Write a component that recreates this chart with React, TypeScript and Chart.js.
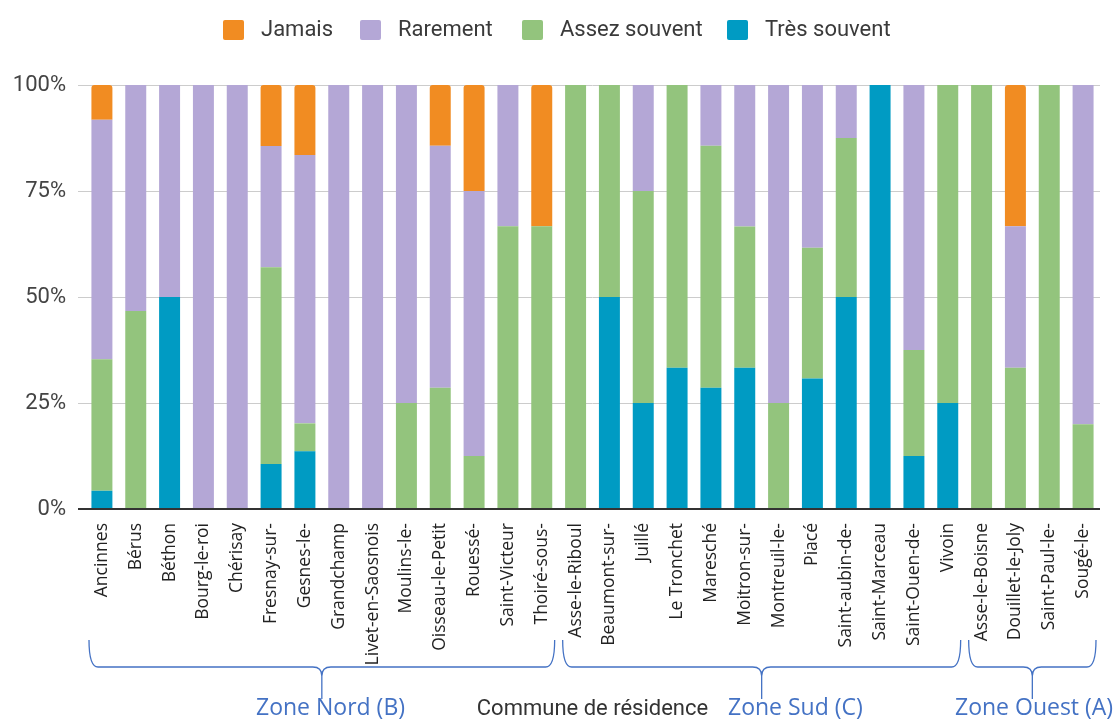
import React, { useEffect, useRef } from 'react';
import { Chart, registerables } from 'chart.js';

Chart.register(...registerables);

// ---- Data ----
const communes = [
  'Ancinnes', 'Bérus', 'Béthon', 'Bourg-le-roi', 'Chérisay', 'Fresnay-sur-', 'Gesnes-le-',
  'Grandchamp', 'Livet-en-Saosnois', 'Moulins-le-', 'Oisseau-le-Petit', 'Rouessé-',
  'Saint-Victeur', 'Thoiré-sous-',
  'Asse-le-Riboul', 'Beaumont-sur-', 'Juillé', 'Le Tronchet', 'Maresché', 'Moitron-sur-',
  'Montreuil-le-', 'Piacé', 'Saint-aubin-de-', 'Saint-Marceau', 'Saint-Ouen-de-', 'Vivoin',
  'Asse-le-Boisne', 'Douillet-le-Joly', 'Saint-Paul-le-', 'Sougé-le-',
];

const tresSouvent = [4.3, 0, 50, 0, 0, 10.6, 13.6, 0, 0, 0, 0, 0, 0, 0,
  0, 50, 25, 33.3, 28.6, 33.3, 0, 30.8, 50, 100, 12.5, 25,
  0, 0, 0, 0];
const assezSouvent = [31.0, 46.7, 0, 0, 0, 46.4, 6.6, 0, 0, 25, 28.6, 12.5, 66.7, 66.7,
  100, 50, 50, 66.7, 57.1, 33.3, 25, 30.8, 37.5, 0, 25, 75,
  100, 33.3, 100, 20];
const rarement = [56.5, 53.3, 50, 100, 100, 28.6, 63.3, 100, 100, 75, 57.1, 62.5, 33.3, 0,
  0, 0, 25, 0, 14.3, 33.4, 75, 38.4, 12.5, 0, 62.5, 0,
  0, 33.4, 0, 80];
const jamais = [8.2, 0, 0, 0, 0, 14.4, 16.5, 0, 0, 0, 14.3, 25, 0, 33.3,
  0, 0, 0, 0, 0, 0, 0, 0, 0, 0, 0, 0,
  0, 33.3, 0, 0];

const seriesNames = ['Très souvent', 'Assez souvent', 'Rarement', 'Jamais'];
const seriesColors = ['#009BC3', '#93C47D', '#B4A7D6', '#F18C22'];
const legendOrder = ['Jamais', 'Rarement', 'Assez souvent', 'Très souvent'];

const yTickValues = [0, 25, 50, 75, 100];

const zoneNames = ['Zone Nord (B)', 'Zone Sud (C)', 'Zone Ouest (A)'];
const zoneFirst = [0, 14, 26];
const zoneLast = [13, 25, 29];

const xTitle = 'Commune de résidence';

// ---- Overlay plugin: legend, braces, zone labels ----
const overlayPlugin = {
  id: 'overlay',
  afterDraw(chart: any) {
    const ctx = chart.ctx;
    const x = chart.scales.x;
    ctx.save();

    // Legend
    const legendBoxX = [223, 360, 522, 727];
    ctx.font = '22px Roboto';
    ctx.textBaseline = 'middle';
    ctx.textAlign = 'left';
    legendOrder.forEach((name, i) => {
      const c = seriesColors[seriesNames.indexOf(name)];
      ctx.fillStyle = c;
      ctx.beginPath();
      (ctx as any).roundRect(legendBoxX[i], 20, 21, 20, 2);
      ctx.fill();
      ctx.fillStyle = '#3a3a3a';
      ctx.fillText(name, legendBoxX[i] + 38, 30);
    });

    // Braces
    const catW = x.getPixelForValue(1) - x.getPixelForValue(0);
    const top = 640, mid = 667, tip = 699, r = 9;
    ctx.strokeStyle = '#4472C4';
    ctx.lineWidth = 1.3;
    const textLeft = [256, 728, 955];
    zoneNames.forEach((name, i) => {
      const L = x.getPixelForValue(zoneFirst[i]) - catW / 2 + 4;
      const R = x.getPixelForValue(zoneLast[i]) + catW / 2 - 4;
      const C = (L + R) / 2;
      ctx.beginPath();
      ctx.moveTo(L, top);
      ctx.quadraticCurveTo(L, mid, L + r, mid);
      ctx.lineTo(C - r, mid);
      ctx.quadraticCurveTo(C, mid, C, mid + r);
      ctx.lineTo(C, tip);
      ctx.moveTo(R, top);
      ctx.quadraticCurveTo(R, mid, R - r, mid);
      ctx.lineTo(C + r, mid);
      ctx.quadraticCurveTo(C, mid, C, mid + r);
      ctx.stroke();

      ctx.fillStyle = '#4472C4';
      ctx.font = '23px "Open Sans"';
      ctx.textAlign = 'left';
      ctx.textBaseline = 'alphabetic';
      ctx.fillText(name, textLeft[i], 715);
    });
    ctx.restore();
  },
};

export default function App() {
  const ref = useRef<HTMLCanvasElement>(null);

  useEffect(() => {
    if (!ref.current) return;
    const datasets = seriesNames.map((name, i) => ({
      label: name,
      data: [tresSouvent, assezSouvent, rarement, jamais][i],
      backgroundColor: seriesColors[i],
      borderWidth: 0,
      borderRadius: name === 'Jamais' ? { topLeft: 3, topRight: 3, bottomLeft: 0, bottomRight: 0 } : 0,
      categoryPercentage: 1,
      barPercentage: 0.62,
    }));

    const chart = new Chart(ref.current, {
      type: 'bar',
      data: { labels: communes, datasets },
      plugins: [overlayPlugin],
      options: {
        responsive: false,
        animation: false,
        layout: { padding: { top: 85, right: 18, left: 0, bottom: 0 } },
        plugins: {
          legend: { display: false },
          tooltip: { enabled: false },
        },
        scales: {
          x: {
            stacked: true,
            grid: { display: false },
            border: { display: false },
            ticks: {
              autoSkip: false,
              maxRotation: 90,
              minRotation: 90,
              padding: 6,
              color: '#222',
              font: { family: '"Open Sans"', size: 17.5 },
            },
            title: {
              display: true,
              text: xTitle,
              color: '#333',
              font: { family: 'Roboto', size: 22, lineHeight: 1.2 },
              padding: { top: 0, bottom: -3 },
            },
            afterFit(scale: any) {
              scale.height = 211;
            },
          },
          y: {
            stacked: true,
            min: 0,
            max: 100,
            afterBuildTicks(scale: any) {
              scale.ticks = yTickValues.map((v) => ({ value: v }));
            },
            ticks: {
              padding: 12,
              color: '#444',
              font: { family: 'Roboto', size: 22 },
              callback: (v: any) => v + '%',
            },
            grid: {
              color: (c: any) => (c.tick && c.tick.value === 0 ? '#333' : '#cccccc'),
              lineWidth: (c: any) => (c.tick && c.tick.value === 0 ? 2 : 1),
              tickLength: 7,
            },
            border: { display: false },
            afterFit(scale: any) {
              scale.width = 85;
            },
          },
        },
      },
    });
    return () => chart.destroy();
  }, []);

  return (
    <div style={{ position: 'fixed', left: 0, top: 0, width: 1118, height: 720, background: '#fff' }}>
      <canvas ref={ref} width={1118} height={720} />
    </div>
  );
}
